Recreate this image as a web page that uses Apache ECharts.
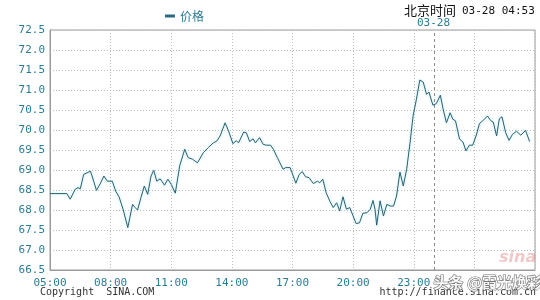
<!DOCTYPE html>
<html>
<head>
<meta charset="utf-8">
<script src="https://cdn.jsdelivr.net/npm/echarts@6/dist/echarts.min.js"></script>
<style>html,body{margin:0;padding:0;background:#fff}#c{width:540px;height:300px}</style>
</head>
<body>
<div id="c"></div>
<script>
var times = ['05:00','05:50','06:00','06:15','06:23','06:30','06:40','06:50','07:00','07:05','07:18','07:30','07:40','07:50','08:05','08:15','08:25','08:37','08:51','09:05','09:13','09:20','09:30','09:40','09:50','10:00','10:08','10:17','10:27','10:40','10:50','11:00','11:12','11:25','11:40','11:50','12:03','12:18','12:35','12:50','13:05','13:15','13:25','13:40','13:50','14:03','14:13','14:20','14:35','14:43','14:53','15:03','15:10','15:22','15:33','15:43','15:55','16:03','16:15','16:32','16:40','16:53',
'17:10','17:20','17:29','17:39','17:49','18:02','18:14','18:21','18:30','18:40','18:51','19:01','19:11','19:20','19:30','19:40','19:50','20:00','20:09','20:19','20:29','20:41','20:51','20:59','21:05','21:10','21:20','21:30','21:40','21:50','22:00','22:09','22:19','22:29','22:39','22:49','22:58','23:08','23:18','23:28','23:38','23:45','23:57','00:07','00:19','00:27','00:37','00:48','00:56','01:04','01:16','01:26','01:35','01:45','01:55','02:05','02:15','02:25','02:39','02:49','02:56','03:06','03:14','03:22','03:33','03:43','03:53','04:05','04:18','04:32','04:44'];
var prices = [68.41,68.41,68.27,68.52,68.56,68.53,68.89,68.93,68.97,68.85,68.49,68.67,68.85,68.72,68.72,68.47,68.33,68.02,67.56,68.14,68.06,68.00,68.31,68.60,68.39,68.85,68.99,68.72,68.78,68.62,68.77,68.64,68.42,69.10,69.52,69.31,69.27,69.18,69.43,69.56,69.68,69.72,69.85,70.18,69.98,69.66,69.73,69.68,69.95,69.93,69.71,69.78,69.68,69.81,69.64,69.62,69.62,69.52,69.31,69.02,69.06,69.06,
68.67,68.89,68.96,68.83,68.81,68.66,68.72,68.68,68.77,68.43,68.22,68.06,68.18,67.98,68.33,68.02,68.06,67.85,67.66,67.68,67.92,67.93,68.02,68.24,68.02,67.62,68.23,67.85,68.14,68.10,68.10,68.35,68.95,68.60,69.02,69.68,70.35,70.77,71.25,71.20,70.89,70.95,70.62,70.66,70.87,70.53,70.18,70.43,70.27,70.23,69.77,69.70,69.48,69.62,69.62,69.85,70.16,70.23,70.35,70.23,70.20,69.85,70.28,70.33,69.93,69.74,69.89,69.97,69.87,69.99,69.71];
var xTickLabels = ['05:00','08:00','11:00','14:00','17:00','20:00','23:00','',''];
var dayMarkTime = '00:00';
var dayLabel = '03-28';
var headerTime = '03-28 04:53';

function toMin(t){var p=t.split(':');var h=+p[0],m=+p[1];if(h<5)h+=24;return (h-5)*60+m;}
var data = times.map(function(t,i){return [toMin(t), prices[i]];});

var teal = '#2a7c96';
var mono = '"DejaVu Sans Mono", "Liberation Mono", monospace';
var chart = echarts.init(document.getElementById('c'), null, {renderer:'canvas'});
chart.setOption({
  animation:false,
  backgroundColor:'#fff',
  grid:{left:50, top:30, width:485, height:240, show:true, borderColor:'#9a9a9a', borderWidth:1, backgroundColor:'transparent'},
  legend:{left:160, top:5, icon:'rect', itemWidth:10, itemHeight:3, data:['价格'],
    textStyle:{color:teal, fontSize:12, fontFamily:'"Noto Sans CJK SC", sans-serif'}},
  xAxis:{type:'value', min:0, max:1440, interval:180,
    axisLine:{show:true, lineStyle:{color:'#9a9a9a'}}, axisTick:{show:false},
    splitLine:{show:true, lineStyle:{color:'#bdbdbd', type:[1,2]}},
    axisLabel:{color:teal, fontFamily:mono, fontSize:11, margin:8,
      formatter:function(v){return xTickLabels[Math.round(v/180)]||'';}}},
  yAxis:{type:'value', min:66.5, max:72.5, interval:0.5,
    axisLine:{show:true, lineStyle:{color:'#9a9a9a'}}, axisTick:{show:false},
    splitLine:{show:true, lineStyle:{color:'#bdbdbd', type:[1,2]}},
    axisLabel:{color:teal, fontFamily:mono, fontSize:11, margin:5,
      formatter:function(v){return v.toFixed(1);}}},
  series:[{name:'价格', type:'line', data:data, symbol:'none', color:'#2a6a80',
    lineStyle:{color:'#2f5d6b', width:1, shadowColor:'rgba(120,225,245,0.7)', shadowBlur:3},
    markLine:{silent:true, symbol:'none', label:{show:false},
      lineStyle:{color:'#8a8a8a', type:[3,3], width:1},
      data:[{xAxis:toMin(dayMarkTime)}]}}],
  graphic:[
    {type:'text', left:404, top:4, style:{text:'北京时间', font:'13px "Noto Sans CJK SC", sans-serif', fill:'#111'}},
    {type:'text', left:462, top:6, style:{text:headerTime, font:'11px '+mono, fill:'#111'}},
    {type:'text', left:417, top:18, style:{text:dayLabel, font:'11px '+mono, fill:teal}},
    {type:'text', left:40, top:287, style:{text:'Copyright  SINA.COM', font:'10px '+mono, fill:'#333'}},
    {type:'text', right:4, top:287, style:{text:'http://finance.sina.com.cn', font:'10px '+mono, fill:'#333'}},
    {type:'text', left:499, top:250, style:{text:'sina', font:'italic bold 16px "DejaVu Sans", sans-serif', fill:'rgba(210,70,70,0.3)'}},
    {type:'text', left:433, top:274, style:{text:'头条 @霞光焕彩', font:'bold 15px "Noto Sans CJK SC", sans-serif', fill:'rgba(250,250,250,0.97)', stroke:'rgba(90,90,90,0.85)', lineWidth:1.2}}
  ]
});
</script>
</body>
</html>
